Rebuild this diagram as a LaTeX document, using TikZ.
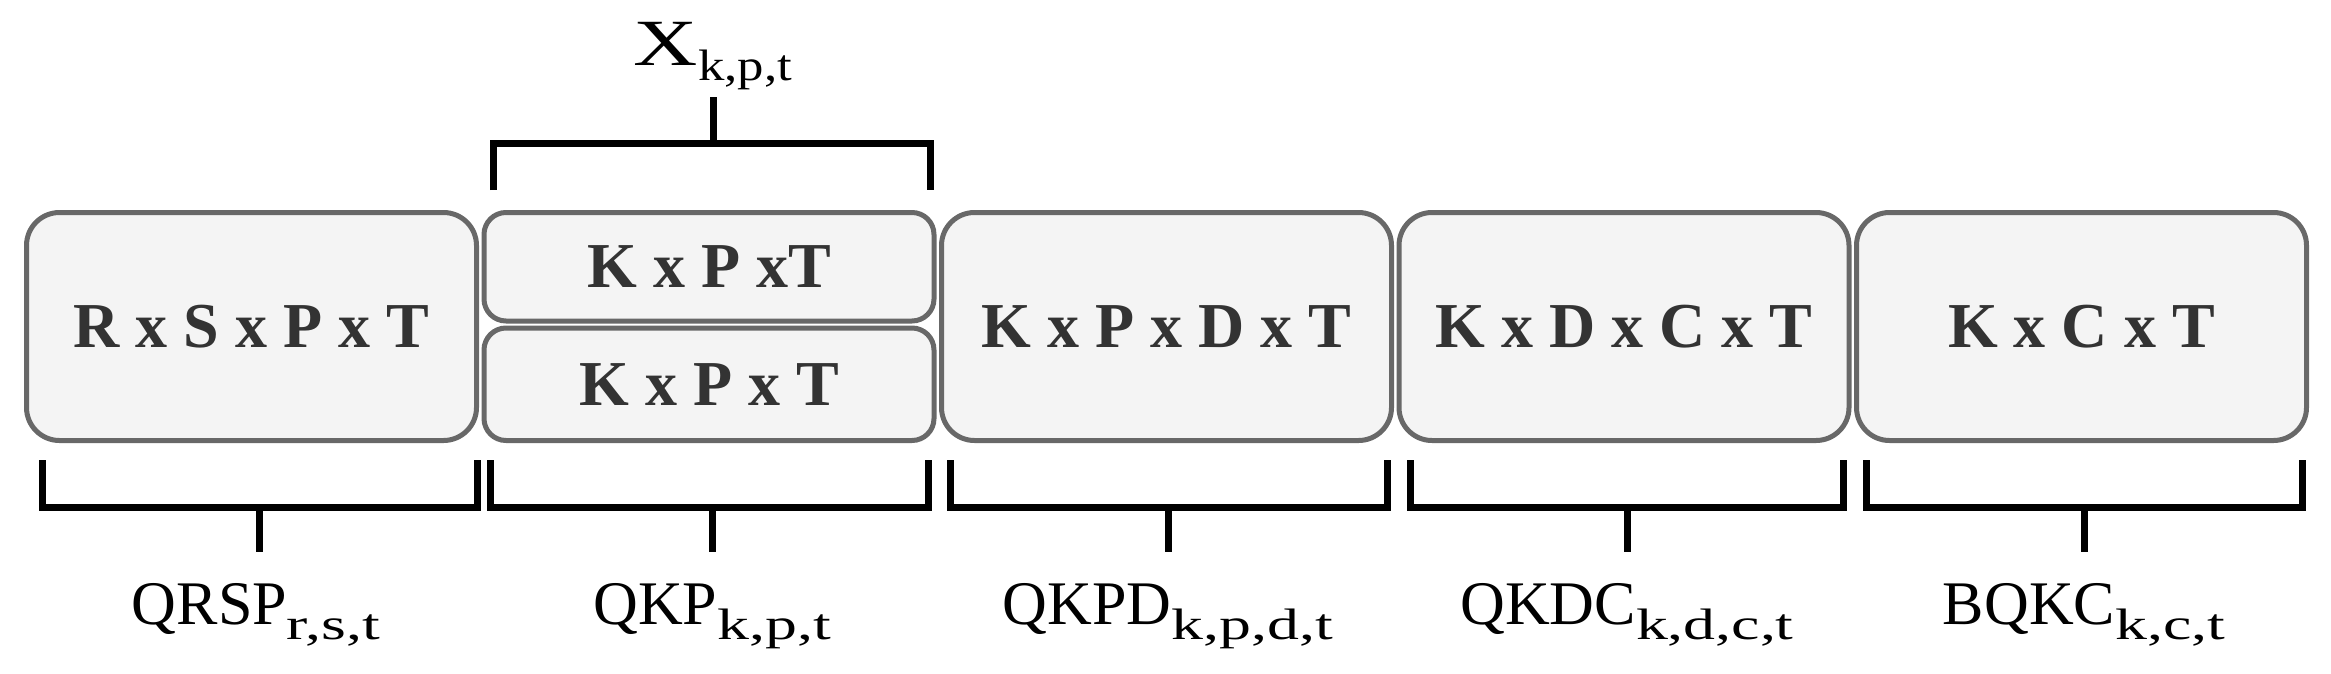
\documentclass[tikz,border=0pt]{standalone}
\usepackage{fontspec}
\setmainfont{Liberation Serif}
\usepackage{graphicx}
\definecolor{boxfill}{HTML}{F4F4F4}
\definecolor{boxline}{HTML}{686868}
\definecolor{boxtext}{HTML}{333333}
\newcommand{\subtxt}[2][1.45]{\raisebox{-15pt}{\scalebox{#1}[1]{\fontsize{44}{44}\selectfont #2}}}
\begin{document}
\begin{tikzpicture}[x=1pt,y=-1pt,
  cell/.style={draw=boxline, fill=boxfill, line width=5pt, rounded corners=33pt,
    minimum width=450pt, minimum height=228pt, inner sep=0pt, text=boxtext,
    font=\fontsize{64}{64}\selectfont\bfseries},
  halfcell/.style={cell, rounded corners=22pt},
  bracket/.style={draw=black, line width=7pt, miter limit=10},
  tick/.style={draw=black, line width=7pt},
  lbl/.style={inner sep=0pt, anchor=base, font=\fontsize{62}{62}\selectfont}]
\useasboundingbox (0,0) rectangle (2331,673);
% boxes
\node[cell] (b1) at (251.5,326.5) {R x S x P x T};
\node[halfcell, minimum height=108.5pt] (b2a) at (709,266.75) {K x P xT};
\node[halfcell, minimum height=112.5pt] (b2b) at (709,384.25) {K x P x T};
\node[cell] (b3) at (1166.5,326.5) {K x P x D x T};
\node[cell] (b4) at (1624,326.5) {K x D x C x T};
\node[cell] (b5) at (2081.5,326.5) {K x C x T};
% top bracket
\draw[bracket] (493,190) |- (930,143) -- (930,190);
\draw[tick] (713,143) -- (713,97);
\node[lbl] (lx) at (713,65) {\scalebox{1.35}[1]{\fontsize{66}{66}\selectfont X}\subtxt[1.2]{k,p,t}};
% bottom brackets
\draw[bracket] (42,460) |- (477,507) -- (477,460);
\draw[tick] (259,507) -- (259,552);
\node[lbl] (l1) at (256,624) {QRSP\subtxt{r,s,t}};
\draw[bracket] (490,460) |- (928,507) -- (928,460);
\draw[tick] (712,507) -- (712,552);
\node[lbl] (l2) at (712,624) {QKP\subtxt{k,p,t}};
\draw[bracket] (950,460) |- (1387,507) -- (1387,460);
\draw[tick] (1168,507) -- (1168,552);
\node[lbl] (l3) at (1168,624) {QKPD\subtxt{k,p,d,t}};
\draw[bracket] (1410,460) |- (1843,507) -- (1843,460);
\draw[tick] (1627,507) -- (1627,552);
\node[lbl] (l4) at (1627,624) {QKDC\subtxt{k,d,c,t}};
\draw[bracket] (1866,460) |- (2302,507) -- (2302,460);
\draw[tick] (2084,507) -- (2084,552);
\node[lbl] (l5) at (2084,624) {BQKC\subtxt{k,c,t}};
\end{tikzpicture}
\end{document}
